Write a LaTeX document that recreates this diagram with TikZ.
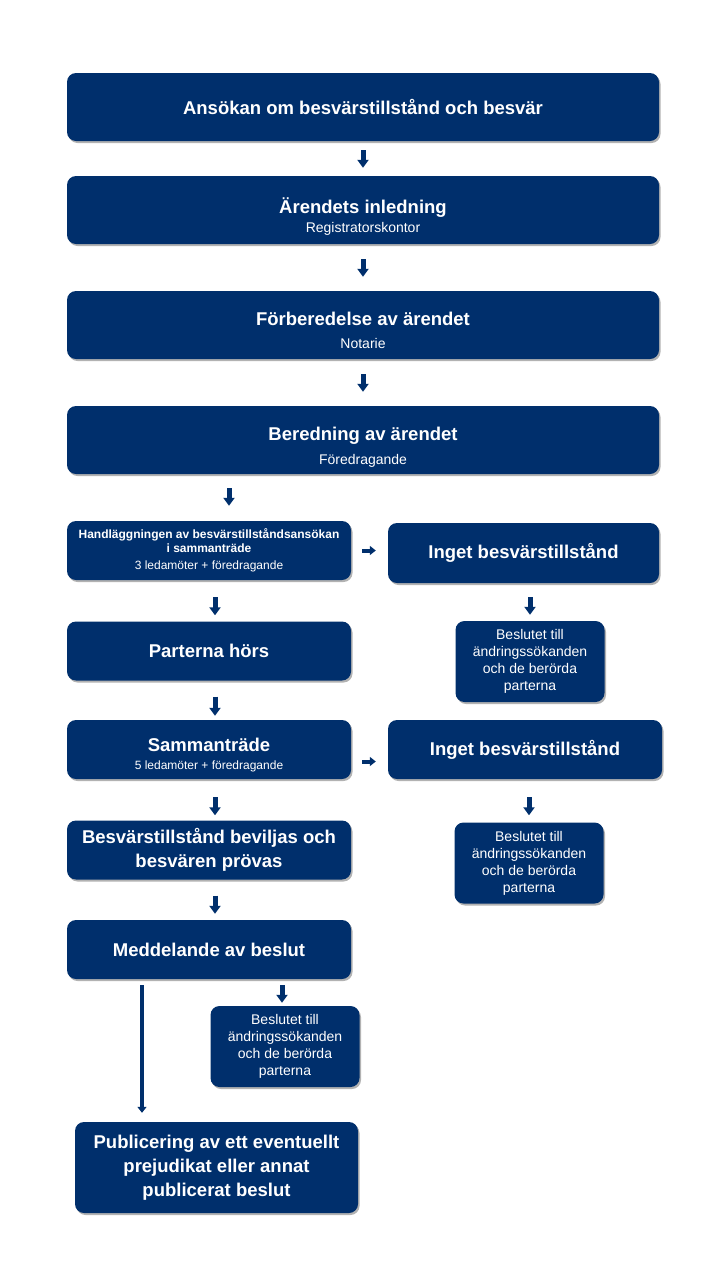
\documentclass[tikz,border=0pt]{standalone}
\usepackage{fontspec}
\setmainfont{Liberation Sans}
\usetikzlibrary{arrows.meta,shadows}
\definecolor{navy}{RGB}{0,47,108}
\newcommand{\headtx}{\fontsize{18.5}{24}\selectfont\bfseries}
\newcommand{\subtx}{\fontsize{14}{17}\selectfont}
\newcommand{\smalltx}{\fontsize{12}{14}\selectfont}
\tikzset{
	box/.style={fill=navy,text=white,rounded corners=9pt,align=center,inner sep=2pt,
		drop shadow={shadow xshift=1.5pt,shadow yshift=-2pt,opacity=.3,fill=black}},
	wide/.style={box,minimum width=592pt,minimum height=68pt,font=\subtx},
	half/.style={box,minimum width=284pt,minimum height=59pt,font=\headtx},
	note/.style={box,minimum width=149pt,minimum height=81pt,font=\subtx},
	blk/.style={draw=navy,line width=5pt,-{Triangle[width=11pt,length=8pt]}},
	blks/.style={draw=navy,line width=4pt,-{Triangle[width=9pt,length=6pt]}}
}
\begin{document}
\begin{tikzpicture}[x=1pt,y=-1pt]
		\useasboundingbox (0,0) rectangle (720,1280);
		%main column
		\node[wide] (ansokan) at (363,107) {\headtx Ansökan om besvärstillstånd och besvär};
		\node[wide] (arende) at (363,210) {{\headtx\rule{0pt}{29pt}Ärendets inledning}\\[1.5pt]Registratorskontor};
		\node[wide] (forb) at (363,325) {{\headtx\rule{0pt}{24.5pt}Förberedelse av ärendet}\\[6.5pt]Notarie};
		\node[wide] (bered) at (363,440) {{\headtx\rule{0pt}{27.5pt}Beredning av ärendet}\\[6.5pt]Föredragande};
		\node[half,font=\smalltx] (handl) at (209,550.5) {\bfseries Handläggningen av besvärstillståndsansökan\\\bfseries i sammanträde\\[3pt]3 ledamöter + föredragande};
		\node[half] (parter) at (209,651) {Parterna hörs};
		\node[half,font=\smalltx] (samm) at (209,749.5) {{\headtx\rule{0pt}{24.5pt}Sammanträde}\\[3.5pt]5 ledamöter + föredragande};
		\node[half] (besv) at (209,850) {Besvärstillstånd beviljas och\\besvären prövas};
		\node[half] (medd) at (209,949.5) {Meddelande av beslut};
		\node[half,minimum width=283pt,minimum height=91pt] (publ) at (216.5,1167.5) {Publicering av ett eventuellt\\prejudikat eller annat\\publicerat beslut};
		%side boxes
		\node[half,minimum width=271pt,minimum height=60pt] (inget1) at (523.5,553) {Inget besvärstillstånd};
		\node[note] (beslut1) at (530,661.5) {Beslutet till\\ändringssökanden\\och de berörda\\parterna};
		\node[half,minimum width=274pt] (inget2) at (525,749.5) {Inget besvärstillstånd};
		\node[note] (beslut2) at (529,863) {Beslutet till\\ändringssökanden\\och de berörda\\parterna};
		\node[note] (beslut3) at (285,1046.5) {Beslutet till\\ändringssökanden\\och de berörda\\parterna};
		%arrows
		\foreach \a/\b/\s/\e in {ansokan/arende/9/8,arende/forb/15/14,forb/bered/15/14}
		\draw[blk,shorten <=\s pt,shorten >=\e pt] (\a) -- (\b);
		\draw[blk,shorten <=14pt,shorten >=15pt] ([xshift=20pt]handl.north |- bered.south) -- ([xshift=20pt]handl.north);
		\draw[blk,shorten <=17pt,shorten >=6pt] ([xshift=6pt]handl.south) -- ([xshift=6pt]parter.north);
		\draw[blk,shorten <=16pt,shorten >=4pt] ([xshift=6pt]parter.south) -- ([xshift=6pt]samm.north);
		\draw[blk,shorten <=18pt,shorten >=5pt] ([xshift=6pt]samm.south) -- ([xshift=6pt]besv.north);
		\draw[blk,shorten <=16pt,shorten >=6pt] ([xshift=6pt]besv.south) -- ([xshift=6pt]medd.north);
		\draw[blk,shorten <=6pt,shorten >=3pt] ([xshift=-3pt]beslut3.north |- medd.south) -- ([xshift=-3pt]beslut3.north);
		\draw[blks,shorten <=6pt,shorten >=9pt] ([xshift=-67pt]medd.south) -- ([xshift=-67pt]medd.south |- publ.north);
		\draw[blk,shorten <=14pt,shorten >=6pt] (beslut1.north |- inget1.south) -- (beslut1.north);
		\draw[blk,shorten <=18pt,shorten >=7pt] (beslut2.north |- inget2.south) -- (beslut2.north);
		\draw[blks,shorten <=11pt,shorten >=12pt] (handl.east) -- (handl.east -| inget1.west);
		\draw[blks,shorten <=11pt,shorten >=12pt] ([yshift=-12pt]samm.east) -- ([yshift=-12pt]inget2.west);
\end{tikzpicture}
\end{document}
